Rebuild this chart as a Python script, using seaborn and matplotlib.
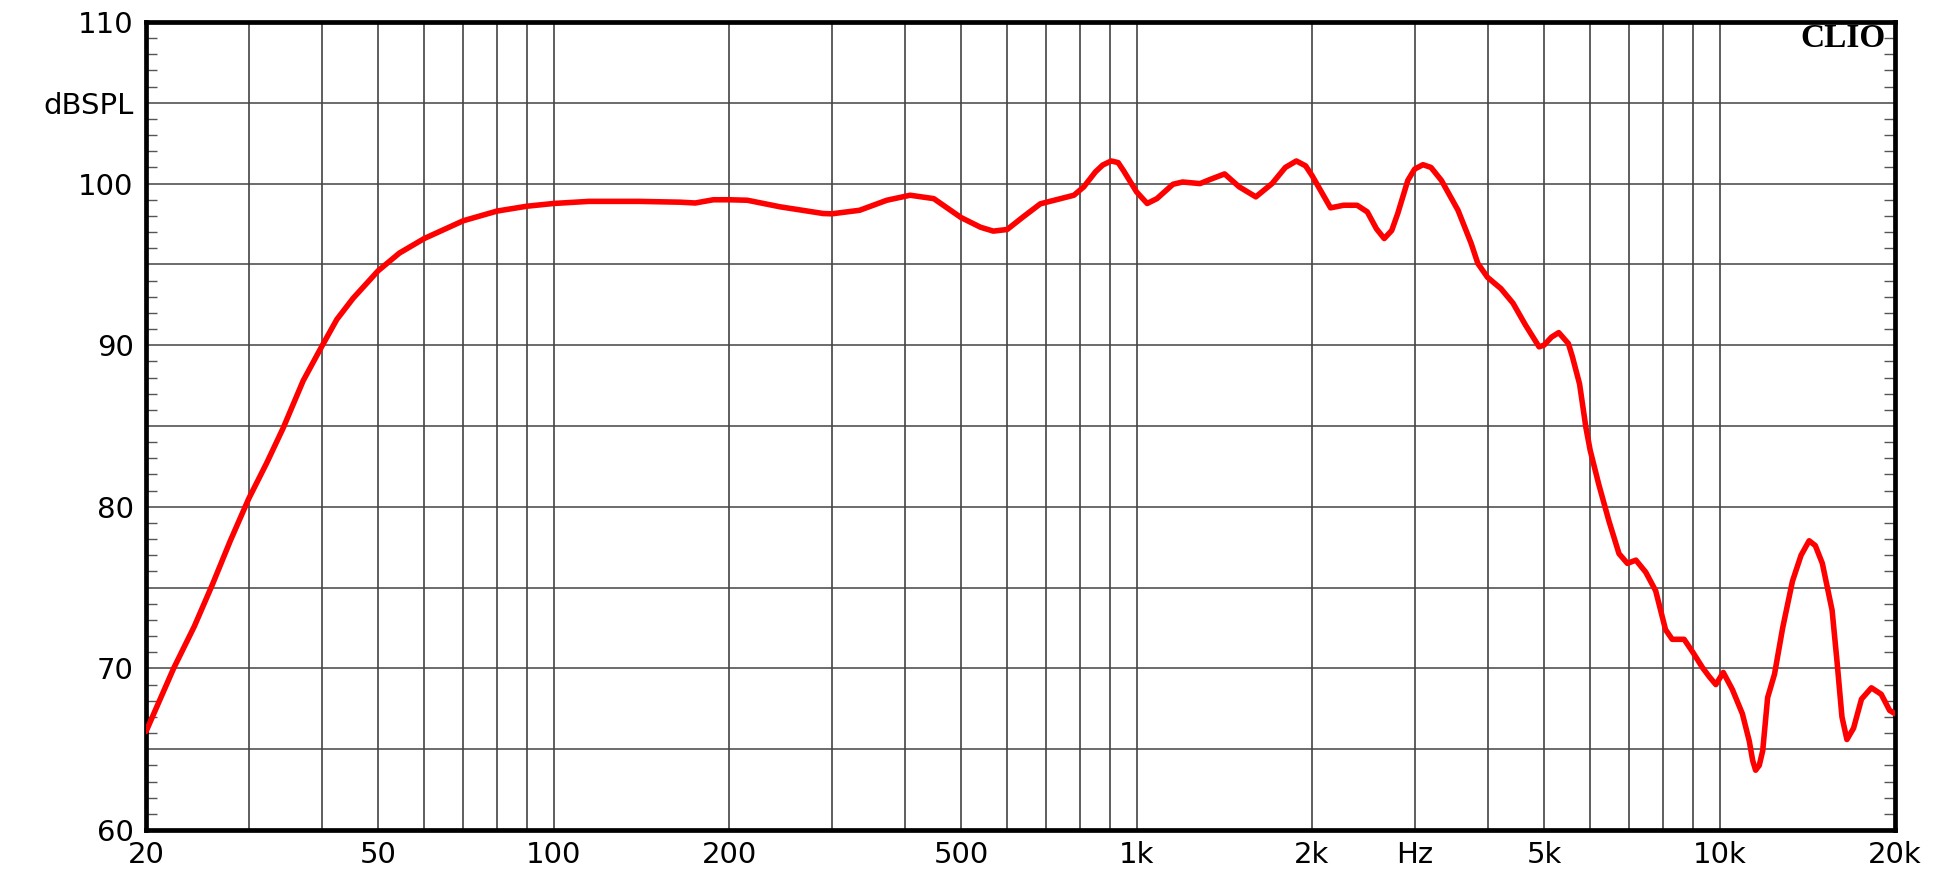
"""Loudspeaker SPL frequency response, CLIO-style plot."""
import matplotlib.pyplot as plt
import pandas as pd
import seaborn as sns
from matplotlib.ticker import FixedLocator, MultipleLocator, NullFormatter

freq = [20, 22.3, 24.2, 26, 27.9, 30, 32.2, 34.4, 37.2, 40, 42.5, 45.3, 50, 54.4, 60, 70,
        80, 90, 100, 115, 140, 165, 175, 188, 200, 215, 245, 290, 300, 335, 373, 409, 449,
        500, 540, 568, 600, 639, 684, 741, 781, 812, 850, 875, 905, 930, 950, 1000, 1043,
        1084, 1155, 1200, 1285, 1336, 1416, 1500, 1602, 1708, 1800, 1880, 1950, 2000, 2152,
        2266, 2390, 2488, 2580, 2660, 2740, 2806, 2920, 3000, 3100, 3200, 3334, 3560, 3750,
        3850, 4000, 4218, 4424, 4647, 4904, 5000, 5150, 5300, 5505, 5592, 5754, 5900, 6000,
        6206, 6464, 6724, 6950, 7188, 7474, 7772, 8080, 8296, 8696, 9000, 9346, 9598, 9856,
        10150, 10520, 10944, 11248, 11400, 11532, 11700, 11860, 12094, 12428, 12832, 13340,
        13800, 14248, 14600, 15010, 15600, 15900, 16220, 16540, 16980, 17520, 18220, 18940,
        19580, 20000]
spl = [66.1, 70.0, 72.6, 75.2, 77.9, 80.5, 82.7, 84.9, 87.8, 89.9, 91.6, 92.9, 94.6, 95.7,
       96.6, 97.7, 98.3, 98.6, 98.77, 98.9, 98.9, 98.85, 98.8, 99.0, 99.0, 98.97, 98.56,
       98.15, 98.13, 98.35, 98.97, 99.28, 99.07, 97.9, 97.3, 97.06, 97.16, 97.94, 98.75,
       99.07, 99.28, 99.8, 100.72, 101.15, 101.4, 101.3, 100.8, 99.49, 98.77, 99.07, 99.96,
       100.1, 100.0, 100.25, 100.6, 99.8, 99.18, 100.0, 101.0, 101.4, 101.1, 100.5, 98.5,
       98.66, 98.66, 98.25, 97.2, 96.6, 97.1, 98.15, 100.2, 100.9, 101.17, 101.0, 100.2,
       98.35, 96.3, 95.06, 94.2, 93.5, 92.6, 91.25, 89.9, 90.0, 90.5, 90.78, 90.1, 89.3,
       87.6, 84.9, 83.5, 81.4, 79.1, 77.1, 76.5, 76.7, 75.95, 74.8, 72.4, 71.8, 71.8, 71.0,
       70.06, 69.5, 69.0, 69.75, 68.7, 67.2, 65.5, 64.3, 63.7, 64.0, 64.9, 68.2, 69.65,
       72.5, 75.4, 77.0, 77.9, 77.6, 76.5, 73.6, 70.5, 67.0, 65.6, 66.3, 68.1, 68.8, 68.4,
       67.4, 67.2]

x_ticks = [20, 50, 100, 200, 500, 1000, 2000, 3000, 5000, 10000, 20000]
x_labels = ["20", "50", "100", "200", "500", "1k", "2k", "Hz", "5k", "10k", "20k"]
x_grid = [30, 40, 60, 70, 80, 90, 300, 400, 600, 700, 800, 900,
          4000, 6000, 7000, 8000, 9000]
y_ticks = [60, 65, 70, 75, 80, 85, 90, 95, 100, 105, 110]
y_labels = ["60", "", "70", "", "80", "", "90", "", "100", "dBSPL", "110"]

df = pd.DataFrame({"freq": freq, "spl": spl})

sns.set_style("white")
plt.rcParams["font.family"] = ["DejaVu Sans"]

fig = plt.figure(figsize=(19.42, 8.80), dpi=100)
ax = fig.add_axes([0.0752, 0.0568, 0.9006, 0.9182])

sns.lineplot(data=df, x="freq", y="spl", color="#ff0000", linewidth=4.0, ax=ax,
             zorder=5)

ax.set_xscale("log")
ax.set_xlim(20, 20000)
ax.set_ylim(60, 110)

ax.xaxis.set_major_locator(FixedLocator(x_ticks))
ax.set_xticklabels(x_labels)
ax.xaxis.set_minor_locator(FixedLocator(x_grid))
ax.xaxis.set_minor_formatter(NullFormatter())

ax.yaxis.set_major_locator(FixedLocator(y_ticks))
ax.set_yticklabels(y_labels)
ax.yaxis.set_minor_locator(MultipleLocator(1))

ax.grid(True, which="both", axis="x", color="#333333", linewidth=1.1)
ax.grid(True, which="major", axis="y", color="#444444", linewidth=1.1)

ax.tick_params(axis="x", which="both", length=0, pad=8, labelsize=21,
               labelcolor="black")
ax.tick_params(axis="y", which="major", length=0, pad=9, labelsize=21,
               labelcolor="black")
ax.tick_params(axis="y", which="minor", direction="in", length=8, width=1,
               color="#555555", left=True, right=True)

for side in ax.spines.values():
    side.set_color("black")
    side.set_linewidth(3.4)

ax.set_xlabel("")
ax.set_ylabel("")

ax.text(0.9945, 0.999, "CLIO", transform=ax.transAxes, ha="right", va="top",
        fontsize=24, fontweight="bold", color="black",
        family=["Liberation Serif", "DejaVu Serif"])

fig.savefig("out.png", dpi=100)
